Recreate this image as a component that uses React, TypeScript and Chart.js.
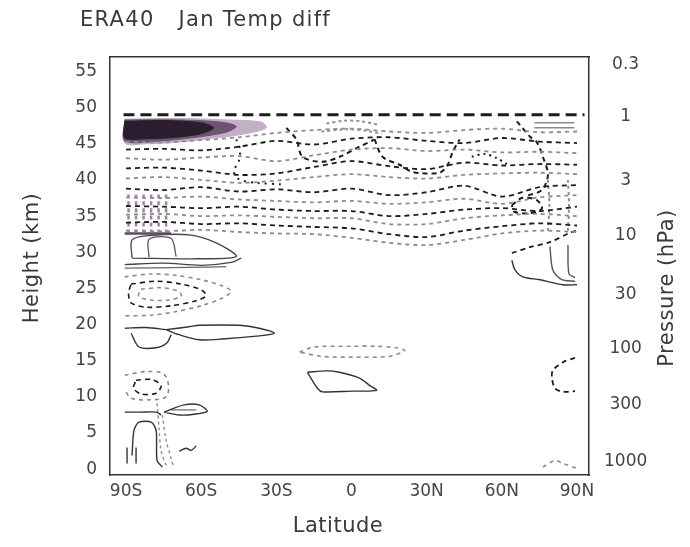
import React, { useEffect, useRef } from "react";
import { Chart, registerables } from "chart.js";
Chart.register(...registerables);

type Pt = [number, number];

// ---- axes ----
const TITLE = "ERA40   Jan Temp diff";
const X_TITLE = "Latitude";
const Y_TITLE = "Height (km)";
const Y2_TITLE = "Pressure (hPa)";
const latTicks = [-90, -60, -30, 0, 30, 60, 90];
const latLabels = ["90S", "60S", "30S", "0", "30N", "60N", "90N"];
const heightTicks = [0, 5, 10, 15, 20, 25, 30, 35, 40, 45, 50, 55];
const pressureHeights = [56.0, 48.7, 39.9, 32.3, 24.2, 16.7, 9.0, 1.0];
const pressureLabels = ["0.3", "1", "3", "10", "30", "100", "300", "1000"];

// ---- contours (latitude, height km) ----
const topDash: Pt[] = [[-91, 49.0], [93, 49.0]];
const darkOuter: Pt[] = [[-90.5, 48.4], [-70, 48.5], [-50, 48.3], [-36, 48.0], [-34, 47.2], [-42, 46.4], [-55, 45.8], [-70, 45.2], [-82, 45.0], [-90.5, 45.1], [-90.5, 48.4]];
const darkMid: Pt[] = [[-90.5, 48.3], [-70, 48.3], [-52, 48.0], [-46, 47.4], [-50, 46.6], [-62, 45.9], [-76, 45.4], [-90.5, 45.4], [-90.5, 48.3]];
const darkInner: Pt[] = [[-90.5, 48.1], [-74, 48.2], [-60, 47.9], [-55, 47.2], [-60, 46.4], [-70, 45.9], [-82, 45.7], [-90.5, 45.8], [-90.5, 48.1]];
const purpleTopA: Pt[] = [[-10, 47.8], [-3, 48.2], [4, 48.1], [11, 47.6]];
const purpleTopB: Pt[] = [[-12, 46.7], [-2, 47.0], [6, 46.8], [12, 46.4]];

const bandLats = [-90, -75, -60, -45, -30, -15, 0, 15, 30, 45, 60, 75, 90];
const band1 = [45.3, 45.2, 45.5, 45.9, 46.5, 46.9, 47.1, 46.7, 46.5, 46.9, 47.1, 46.6, 46.7];
const band2 = [44.2, 44.3, 44.1, 44.6, 45.4, 44.9, 45.7, 45.9, 45.4, 45.1, 45.8, 45.3, 45.1];
const band3 = [43.0, 42.8, 43.1, 43.3, 42.6, 43.4, 44.2, 44.4, 44.0, 44.2, 43.8, 43.9, 43.7];
const band4 = [41.6, 41.7, 41.3, 40.7, 40.9, 41.8, 42.6, 41.9, 41.5, 42.4, 42.0, 42.2, 42.1];
const band5 = [40.2, 40.4, 40.0, 39.6, 39.9, 40.4, 40.8, 40.4, 40.2, 40.7, 40.9, 41.0, 40.8];
const band6 = [38.8, 38.6, 39.0, 38.4, 38.7, 38.3, 38.8, 37.9, 38.3, 39.2, 37.7, 39.0, 39.3];
const band7 = [37.6, 37.5, 37.7, 37.3, 37.1, 36.9, 37.1, 36.7, 36.9, 37.4, 36.7, 37.6, 37.9];
const band8 = [36.4, 36.3, 36.1, 36.3, 35.9, 35.7, 35.7, 35.0, 35.3, 35.9, 36.1, 35.7, 36.3];
const band9 = [35.2, 35.3, 35.0, 35.1, 34.9, 34.7, 34.7, 33.9, 33.9, 34.7, 35.1, 35.3, 35.0];
const band10 = [34.1, 34.2, 33.9, 34.0, 33.7, 33.5, 33.3, 32.5, 32.1, 33.0, 33.6, 34.0, 33.7];
const band11 = [33.0, 32.9, 33.1, 32.8, 32.6, 32.5, 32.0, 31.3, 31.0, 31.7, 32.6, 33.0, 32.8];

const troughU: Pt[] = [[9.2, 45.6], [12.4, 43.2], [19.2, 42.1], [24.4, 41.1], [35.2, 41.0], [38.4, 42.1], [40.4, 43.9], [43.2, 45.6]];
const dipW: Pt[] = [[-26, 47.2], [-22, 45.6], [-19.6, 43.2], [-11.6, 42.5], [-4.8, 43.2], [3.2, 44.6], [9.2, 45.6]];
const leftV: Pt[] = [[-46, 45.6], [-44.5, 44.2], [-45, 42.6], [-47, 41.2], [-45, 40.1], [-38, 39.6], [-28, 39.4]];
const rightArc: Pt[] = [[66, 48.1], [71.2, 46], [74, 45.2], [76.4, 43.2], [78.4, 40.7], [76, 38.6], [70, 37.8]];
const rightDots: Pt[] = [[48, 43.2], [53, 43.6], [58, 43.0], [62, 42.2]];
const rightLoop: Pt[] = [[64, 36.5], [68, 37.5], [74, 37.2], [76, 36.0], [71, 35.4], [65, 35.6], [64, 36.5]];
const rightVertA: Pt[] = [[78.4, 40], [79, 36.5], [78.4, 33]];
const rightVertB: Pt[] = [[86.4, 40], [86.8, 36.5], [86.4, 33]];
const rightTopA: Pt[] = [[73, 47.9], [89, 47.9]];
const rightTopB: Pt[] = [[73, 47.2], [89, 47.2]];

const hatchLats = [-89, -86, -83, -80, -77, -74];
const hatchTop = 38.0;
const hatchBottom = 32.8;
const hatchBase: Pt[] = [[-90.5, 32.6], [-72, 32.6]];

const e1: Pt[] = [[-87.6, 29.2], [-87.6, 31.7], [-80.8, 32.3], [-64.8, 32.4], [-54, 31.3], [-46, 29.4], [-60.8, 29.1], [-87.6, 29.2]];
const e2: Pt[] = [[-80.8, 29.3], [-80.8, 31.8], [-72, 31.9], [-70, 29.4]];
const e3: Pt[] = [[-90.5, 28.3], [-75, 28.5], [-60, 28.2], [-48, 28.6], [-44, 29.2]];
const e4: Pt[] = [[-90.5, 27.8], [-65, 27.9], [-50, 28.0]];

const f1: Pt[] = [[-90.5, 26.6], [-80, 27.0], [-70, 26.8], [-60, 26.2], [-52, 25.4], [-48, 24.6], [-52, 23.6], [-60, 22.6], [-70, 21.8], [-80, 21.3], [-90.5, 21.2]];
const f2: Pt[] = [[-88, 25.6], [-78, 26.0], [-68, 25.6], [-60, 24.8], [-58, 24.0], [-62, 23.3], [-72, 22.6], [-82, 22.4], [-88, 23.0], [-89, 24.3], [-88, 25.6]];
const f3: Pt[] = [[-84, 24.9], [-76, 25.1], [-69, 24.6], [-68, 23.9], [-73, 23.4], [-80, 23.4], [-85, 23.9], [-84, 24.9]];

const g1: Pt[] = [[-74, 19.3], [-64.8, 19.7], [-60.8, 19.9], [-44.8, 19.9], [-36.8, 19.5], [-30.8, 18.8], [-38, 18.4], [-51.6, 18.0], [-60.8, 17.9], [-68.8, 18.6], [-74, 19.3]];
const g2a: Pt[] = [[-90.5, 19.5], [-82, 19.6], [-74, 19.3]];
const g2b: Pt[] = [[-88, 18.8], [-84.8, 16.9], [-78, 16.8], [-73.6, 17.5], [-72, 18.6]];

const h1: Pt[] = [[-20.8, 16.2], [-15, 16.9], [0, 17.0], [10, 17.0], [18, 16.8], [21.2, 16.4], [15, 15.6], [0, 15.5], [-12, 15.6], [-20.8, 16.2]];
const i1: Pt[] = [[-17.6, 13.4], [-10, 13.6], [-4.8, 13.4], [3.2, 12.6], [7.2, 11.6], [10, 10.9], [0, 10.8], [-11.6, 10.7], [-13.6, 11.2], [-17.6, 13.4]];

const j1: Pt[] = [[-90.5, 13.0], [-82, 13.5], [-75, 13.2], [-73, 11.5], [-74, 10.0], [-80, 9.6], [-88, 9.8], [-90.5, 11]];
const j1b: Pt[] = [[-86, 12.3], [-80, 12.4], [-76, 11.6], [-78, 10.5], [-84, 10.4], [-87, 11.2], [-86, 12.3]];
const j2: Pt[] = [[-90.5, 7.9], [-84, 7.9], [-78, 7.9], [-76, 7.5]];
const j3: Pt[] = [[-74.8, 7.9], [-66.8, 8.9], [-60.8, 8.9], [-57.6, 8.0], [-62.8, 7.6], [-68.8, 7.5], [-74.8, 7.9]];
const j3b: Pt[] = [[-72, 8.2], [-62, 8.2]];
const j4: Pt[] = [[-87.6, 1.9], [-86.8, 5.4], [-84.8, 6.5], [-80, 6.5], [-78, 5.4], [-77.6, 1.2], [-75.5, 0.3]];
const j5: Pt[] = [[-77.6, 9.1], [-76.8, 5.5], [-76, 2.5], [-74, 0.5]];
const j6: Pt[] = [[-75.5, 7.5], [-74, 4], [-72, 1.5], [-71, 0.3]];
const j7a: Pt[] = [[-89.6, 3.0], [-89.6, 0.8]];
const j7b: Pt[] = [[-86, 3.0], [-86, 0.8]];
const j8: Pt[] = [[-68.8, 2.5], [-66, 2.9], [-64, 2.6], [-62, 3.2]];

const k1: Pt[] = [[64, 29.9], [71.2, 30.7], [79.2, 31.4], [87.2, 32.7], [90, 33]];
const k2: Pt[] = [[64, 28.9], [65.2, 27.6], [68.4, 26.6], [75.2, 26.2], [84.4, 25.5], [90, 25.5]];
const k3: Pt[] = [[79.2, 30.8], [80.4, 27.5], [84, 26.2], [89.2, 26.0]];
const k4: Pt[] = [[86.4, 31], [86.8, 27], [89.2, 26.5]];
const l1: Pt[] = [[89.2, 15.4], [84.4, 14.8], [80.4, 13.7], [80, 12.7], [81.2, 11.2], [84.4, 10.7], [89.2, 10.8]];
const m1: Pt[] = [[76.4, 0.3], [81.2, 1.2], [84.4, 0.8], [90, 0.1]];

export default function App() {
  const ref = useRef<HTMLCanvasElement>(null);
  useEffect(() => {
    const canvas = ref.current!;
    const BLACK = "#1c1c1c";
    const GRAY = "#8c8c8c";
    const PURPLE = "#9d88a2";
    const toXY = (pts: Pt[]) => pts.map(([x, y]) => ({ x, y }));
    const bandPts = (vals: number[]) => bandLats.map((x, i) => ({ x, y: vals[i] }));
    const line = (data: any[], color: string, width: number, dash: number[], extra: any = {}) => ({
      data, showLine: true, pointRadius: 0, borderColor: color, borderWidth: width,
      borderDash: dash, tension: 0.3, fill: false, order: 1, ...extra,
    });
    const shape = (pts: Pt[], color: string, order: number) => ({
      data: toXY(pts), showLine: true, pointRadius: 0, borderColor: color, borderWidth: 1,
      backgroundColor: color, fill: "shape", tension: 0.3, order,
    });
    const D1 = [5, 4];
    const D2 = [4, 4];
    const S: number[] = [];
    const datasets: any[] = [
      shape(darkOuter, "#c2afc5", 10),
      shape(darkMid, "#6e5472", 9),
      shape(darkInner, "#2a1d2e", 8),
      line(toXY(topDash), BLACK, 3, [11, 6]),
      line(toXY(purpleTopA), PURPLE, 2, [3, 3]),
      line(toXY(purpleTopB), PURPLE, 2, [3, 3]),
      line(bandPts(band1), GRAY, 1.8, D2),
      line(bandPts(band2), BLACK, 1.8, D1),
      line(bandPts(band3), GRAY, 1.8, D2),
      line(bandPts(band4), BLACK, 1.8, D1),
      line(bandPts(band5), GRAY, 1.8, D2),
      line(bandPts(band6), BLACK, 1.8, D1),
      line(bandPts(band7), GRAY, 1.8, D2),
      line(bandPts(band8), BLACK, 1.8, D1),
      line(bandPts(band9), GRAY, 1.8, D2),
      line(bandPts(band10), BLACK, 1.8, D1),
      line(bandPts(band11), GRAY, 1.8, D2),
      line(toXY(troughU), BLACK, 2, D1),
      line(toXY(dipW), BLACK, 2, D1),
      line(toXY(leftV), BLACK, 2, [2, 5]),
      line(toXY(rightArc), BLACK, 2, D1),
      line(toXY(rightDots), BLACK, 2, [2, 4]),
      line(toXY(rightLoop), BLACK, 2, D1),
      line(toXY(rightVertA), GRAY, 2, [3, 3]),
      line(toXY(rightVertB), GRAY, 2, [3, 3]),
      line(toXY(rightTopA), GRAY, 1.5, S),
      line(toXY(rightTopB), GRAY, 1.5, S),
      ...hatchLats.map((lat) => line(toXY([[lat, hatchTop], [lat, hatchBottom]]), PURPLE, 2.5, [4, 3])),
      line(toXY(hatchBase), "#5e4660", 2.5, S),
      line(toXY(e1), "#444", 1.3, S),
      line(toXY(e2), "#555", 1.3, S),
      line(toXY(e3), "#444", 1.3, S),
      line(toXY(e4), "#666", 1.3, S),
      line(toXY(f1), GRAY, 1.6, D2),
      line(toXY(f2), BLACK, 1.6, D1),
      line(toXY(f3), GRAY, 1.6, D2),
      line(toXY(g1), "#333", 1.4, S),
      line(toXY(g2a), "#333", 1.4, S),
      line(toXY(g2b), "#333", 1.4, S),
      line(toXY(h1), GRAY, 1.6, D2),
      line(toXY(i1), "#333", 1.4, S),
      line(toXY(j1), GRAY, 1.6, D2),
      line(toXY(j1b), BLACK, 1.6, D1),
      line(toXY(j2), "#333", 1.4, S),
      line(toXY(j3), "#333", 1.4, S),
      line(toXY(j3b), "#666", 1.2, S),
      line(toXY(j4), "#333", 1.4, S),
      line(toXY(j5), GRAY, 1.4, [3, 3]),
      line(toXY(j6), GRAY, 1.4, [3, 3]),
      line(toXY(j7a), "#333", 1.4, S),
      line(toXY(j7b), "#333", 1.4, S),
      line(toXY(j8), "#333", 1.4, S),
      line(toXY(k1), BLACK, 1.8, D1),
      line(toXY(k2), "#333", 1.4, S),
      line(toXY(k3), "#555", 1.4, S),
      line(toXY(k4), "#555", 1.4, S),
      line(toXY(l1), BLACK, 1.8, D1),
      line(toXY(m1), GRAY, 1.6, D2),
    ];

    const textPlugin = {
      id: "texts",
      beforeDraw(c: any) {
        const ctx = c.ctx;
        ctx.save();
        ctx.fillStyle = "#fff";
        ctx.fillRect(0, 0, c.width, c.height);
        ctx.restore();
      },
      afterDraw(c: any) {
        const ctx = c.ctx;
        ctx.save();
        ctx.fillStyle = "#3a3a3a";
        ctx.textBaseline = "middle";
        ctx.font = '21px "DejaVu Sans"';
        ctx.textAlign = "left";
        (ctx as any).letterSpacing = "1.3px";
        ctx.fillText(TITLE, 80, 21);
        (ctx as any).letterSpacing = "0.5px";
        ctx.textAlign = "center";
        ctx.font = '21px "DejaVu Sans"';
        ctx.fillText(X_TITLE, 338, 527);
        ctx.save();
        ctx.translate(33, 258);
        ctx.rotate(-Math.PI / 2);
        ctx.fillText(Y_TITLE, 0, 0);
        ctx.restore();
        ctx.save();
        ctx.translate(668, 288);
        ctx.rotate(-Math.PI / 2);
        ctx.fillText(Y2_TITLE, 0, 0);
        ctx.restore();
        ctx.restore();
      },
    };

    const tickFont = { family: "DejaVu Sans", size: 17 };
    const border = { display: true, color: "#333", width: 1.5 };
    const grid = { display: true, drawOnChartArea: false, drawTicks: false };
    const chart = new Chart(canvas, {
      type: "scatter",
      data: { datasets },
      options: {
        responsive: false,
        animation: false,
        layout: { padding: 0 },
        plugins: { legend: { display: false }, tooltip: { enabled: false }, title: { display: false } },
        scales: {
          x: {
            type: "linear", position: "bottom", min: -96.4, max: 94.8,
            afterBuildTicks: (s: any) => { s.ticks = latTicks.map((v) => ({ value: v })); },
            afterFit: (s: any) => { s.height = 72; },
            ticks: {
              autoSkip: false, maxRotation: 0, padding: 6, color: "#444", font: tickFont,
              callback: (v: any) => latLabels[latTicks.indexOf(Number(v))] ?? "",
            },
            grid, border,
          },
          x2: {
            type: "linear", position: "top", min: -96.4, max: 94.8,
            afterFit: (s: any) => { s.height = 57; },
            ticks: { display: false }, grid, border,
          },
          y: {
            type: "linear", position: "left", min: -0.8, max: 57,
            afterBuildTicks: (s: any) => { s.ticks = heightTicks.map((v) => ({ value: v })); },
            afterFit: (s: any) => { s.width = 110; },
            ticks: { autoSkip: false, padding: 13, color: "#444", font: tickFont, callback: (v: any) => String(v) },
            grid, border,
          },
          y2: {
            type: "linear", position: "right", min: -0.8, max: 57,
            afterBuildTicks: (s: any) => { s.ticks = pressureHeights.map((v) => ({ value: v })); },
            afterFit: (s: any) => { s.width = 101; },
            ticks: {
              autoSkip: false, padding: 15, crossAlign: "center", color: "#444", font: tickFont,
              callback: (v: any) => pressureLabels[pressureHeights.indexOf(Number(v))] ?? "",
            },
            grid, border,
          },
        },
      } as any,
      plugins: [textPlugin],
    });
    return () => chart.destroy();
  }, []);
  return (
    <div style={{ position: "absolute", left: 0, top: 0, width: 690, height: 547, background: "#fff" }}>
      <canvas ref={ref} width={690} height={547} style={{ display: "block" }} />
    </div>
  );
}
